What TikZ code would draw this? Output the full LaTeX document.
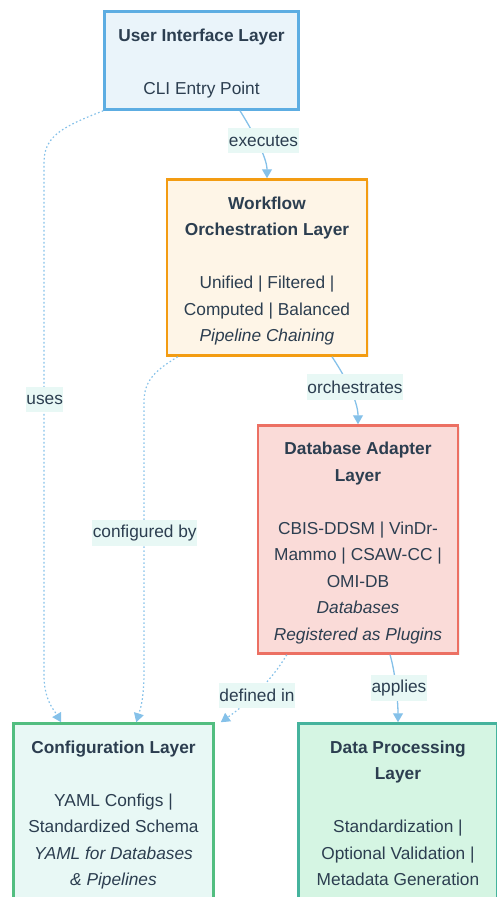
\documentclass[tikz,border=0pt]{standalone}
\usepackage{fontspec}
\setmainfont{Liberation Sans}
\usetikzlibrary{arrows.meta,shadows,calc}

\definecolor{ink}{HTML}{2C3E50}
\definecolor{flowc}{HTML}{85C1E9}
\definecolor{lblbg}{HTML}{E8F8F5}
\definecolor{uiline}{HTML}{5DADE2}
\definecolor{uifill}{HTML}{EAF4FA}
\definecolor{wfline}{HTML}{F39C12}
\definecolor{wffill}{HTML}{FEF5E7}
\definecolor{dbline}{HTML}{EC7063}
\definecolor{dbfill}{HTML}{FADBD8}
\definecolor{cfgline}{HTML}{52BE80}
\definecolor{cfgfill}{HTML}{E8F8F5}
\definecolor{dpline}{HTML}{45B39D}
\definecolor{dpfill}{HTML}{D5F5E3}

% taller strut on the first line nudges the text block slightly downwards
\newcommand{\topstrut}{\rule{0pt}{23.5pt}}

\begin{document}
\begin{tikzpicture}[x=1pt,y=-1pt,
  layer/.style={draw, line width=2.5pt, align=center, text=ink, inner sep=0pt,
    font=\fontsize{17.3}{26.5}\selectfont,
    drop shadow={shadow xshift=1.5pt, shadow yshift=-1.5pt, opacity=0.12}},
  lbl/.style={fill=lblbg, text=ink, font=\fontsize{17.3}{20}\selectfont,
    inner xsep=0.5pt, inner ysep=0pt, minimum height=25.5pt},
  flow/.style={draw=flowc, line width=1.3pt, -{Triangle[width=10pt,length=9pt]}},
  dflow/.style={flow, line width=1.2pt, dash pattern=on 1.6pt off 2.4pt}]

\useasboundingbox (0,0) rectangle (496,897);

% layers
\node[layer, draw=uiline, fill=uifill, minimum width=194pt, minimum height=98pt]
  (ui) at (201.5,60.5)
  {\topstrut\textbf{User Interface Layer}\\[26.5pt]CLI Entry Point\strut};

\node[layer, draw=wfline, fill=wffill, minimum width=200pt, minimum height=176pt]
  (wf) at (267,267.5)
  {\topstrut\textbf{Workflow}\\\textbf{Orchestration Layer}\\[26.5pt]
   Unified | Filtered |\\Computed | Balanced\\\textit{Pipeline Chaining}\strut};

\node[layer, draw=dbline, fill=dbfill, minimum width=200pt, minimum height=228pt]
  (db) at (358,539.5)
  {\topstrut\textbf{Database Adapter}\\\textbf{Layer}\\[26.5pt]
   CBIS-DDSM | VinDr-\\Mammo | CSAW-CC |\\OMI-DB\\
   \textit{Databases}\\\textit{Registered as Plugins}\strut};

\node[layer, draw=cfgline, fill=cfgfill, minimum width=200pt, minimum height=176pt]
  (cfg) at (113.5,811.5)
  {\topstrut\textbf{Configuration Layer}\\[26.5pt]
   YAML Configs |\\Standardized Schema\\\textit{YAML for Databases}\\\textit{\& Pipelines}\strut};

\node[layer, draw=dpline, fill=dpfill, minimum width=199pt, minimum height=176pt]
  (dp) at (398,811.5)
  {\topstrut\textbf{Data Processing}\\\textbf{Layer}\\[26.5pt]
   Standardization |\\Optional Validation |\\Metadata Generation\strut};

% connectors
\draw[flow] ([xshift=38.5pt]ui.south) .. controls +(10,16) and +(0,-22) .. (wf.north);
\draw[flow] ([xshift=65pt]wf.south) .. controls +(12,18) and +(0,-24) .. (db.north);
\draw[flow] ([xshift=32pt]db.south) .. controls +(5,16) and +(0,-22) .. (dp.north);

\draw[dflow] (ui.south west) .. controls (65,126) and (44,135) .. (44,162)
  -- (44,675) .. controls (44,700) and (54,710) .. ([xshift=49pt]cfg.north west);
\draw[dflow] ([xshift=12pt]wf.south west) .. controls (156,370) and (144,380) .. (144,402)
  -- (144,672) .. controls (144,700) and (140,710) .. ([xshift=124pt]cfg.north west);
\draw[dflow] ([xshift=30pt]db.south west) .. controls (272,680) and (248,703) .. ([xshift=6pt]cfg.north east);

% connector labels
\node[lbl] (lexec) at (263.5,140.5) {executes};
\node[lbl] (lorch) at (355,387) {orchestrates};
\node[lbl] (luses) at (44.7,399.7) {uses};
\node[lbl] (lconf) at (144.7,533) {configured by};
\node[lbl] (ldef) at (257,695.5) {defined in};
\node[lbl] (lapp) at (399,688) {applies};

\end{tikzpicture}
\end{document}
